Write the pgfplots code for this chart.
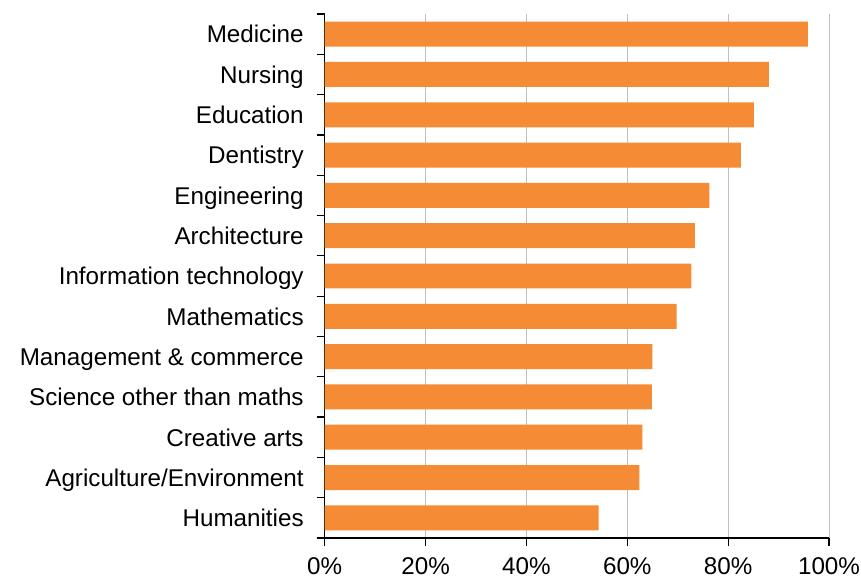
\documentclass[border=0pt]{standalone}
\usepackage{fontspec}
\setmainfont{Liberation Sans}
\usepackage{pgfplots}
\pgfplotsset{compat=1.18}
\definecolor{barorange}{RGB}{245,139,52}
\definecolor{gridgray}{RGB}{192,192,192}
\begin{document}
\begin{tikzpicture}
\path[use as bounding box] (-162.35pt,-20pt) rectangle (268.15pt,269pt);
\begin{axis}[
    at={(0,0)}, anchor=south west,
    scale only axis, width=252.15pt, height=262pt,
    xbar, bar width=0.62,
    xmin=0, xmax=100, ymin=-0.5, ymax=12.5,
    axis x line*=bottom, axis y line*=left,
    axis line style={-, black, line width=0.6pt},
    xtick={0,20,40,60,80,100},
    xticklabels={0\%,20\%,40\%,60\%,80\%,100\%},
    ytick={0,...,12},
    yticklabels={Humanities,Agriculture/Environment,Creative arts,Science other than maths,Management \& commerce,Mathematics,Information technology,Architecture,Engineering,Dentistry,Education,Nursing,Medicine},
    minor ytick={-0.5,0.5,...,12.5},
    tick align=outside,
    major tick length=4pt, minor tick length=4pt,
    major y tick style={draw=none},
    minor y tick style={black, line width=0.6pt},
    major x tick style={black, line width=0.6pt},
    xmajorgrids, grid style={gridgray, line width=0.5pt},
    typeset ticklabels with strut,
    tick label style={font=\fontsize{12.1}{14.5}\selectfont},
    yticklabel style={xshift=-3pt, yshift=-1.5pt},
    xticklabel style={yshift=-0.5pt},
]
\addplot[fill=barorange, draw=none] coordinates {
    (54.3,0) (62.4,1) (63.0,2) (64.9,3) (65.0,4) (69.8,5) (72.7,6)
    (73.4,7) (76.3,8) (82.5,9) (85.1,10) (88.1,11) (95.8,12)
};
\end{axis}
\end{tikzpicture}
\end{document}
